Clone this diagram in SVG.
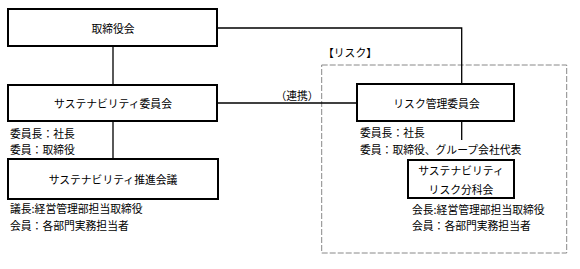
<svg xmlns="http://www.w3.org/2000/svg" width="580" height="269" viewBox="0 0 580 269">
<style>
text{font-family:"Noto Sans CJK JP","Noto Sans",sans-serif;font-size:10.8px;fill:#000;dominant-baseline:central}
.c{text-anchor:middle}
.box{fill:#fff;stroke:#000;stroke-width:2}
.ln{fill:none;stroke:#000;stroke-width:1.3}
</style>
<rect width="580" height="269" fill="#fff"/>
<g id="risk-area">
<rect x="321.7" y="65" width="245" height="188" fill="none" stroke="#888" stroke-width="1" stroke-dasharray="6 2"/>
<text class="c" x="350" y="52">【リスク】</text>
</g>
<g id="connectors">
<path class="ln" d="M217 28H461.7V84"/>
<path class="ln" d="M113 46V85M113 121V159"/>
<path class="ln" d="M217 103H357"/>
<path class="ln" d="M461.7 121V140"/>
<text class="c" x="297" y="95">（連携）</text>
</g>
<g id="board">
<rect class="box" x="8" y="9" width="209" height="37"/>
<text class="c" x="113" y="28">取締役会</text>
</g>
<g id="sustainability-committee">
<rect class="box" x="8" y="85" width="209" height="36"/>
<text class="c" x="113" y="103">サステナビリティ委員会</text>
<text x="10" y="132.5">委員長：社長</text>
<text x="10" y="149">委員：取締役</text>
</g>
<g id="sustainability-council">
<rect class="box" x="8" y="159" width="210" height="40"/>
<text class="c" x="113" y="179">サステナビリティ推進会議</text>
<text x="10" y="208">議長:経営管理部担当取締役</text>
<text x="10" y="225">会員：各部門実務担当者</text>
</g>
<g id="risk-committee">
<rect class="box" x="357" y="84" width="157" height="37"/>
<text class="c" x="436.5" y="102.5">リスク管理委員会</text>
<text x="360" y="132">委員長：社長</text>
<text x="360" y="148.5">委員：取締役、グループ会社代表</text>
</g>
<g id="risk-subcommittee">
<rect class="box" x="408" y="160" width="106" height="38"/>
<text class="c" x="461" y="169.5">サステナビリティ</text>
<text class="c" x="461" y="188.5">リスク分科会</text>
<text x="412" y="209">会長:経営管理部担当取締役</text>
<text x="412" y="225">会員：各部門実務担当者</text>
</g>
</svg>
